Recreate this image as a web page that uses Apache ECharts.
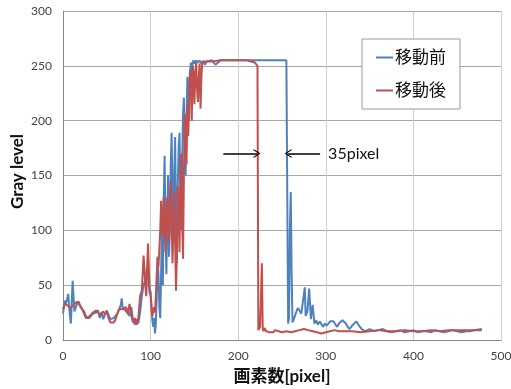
<!DOCTYPE html>
<html>
<head>
<meta charset="utf-8">
<script src="https://cdn.jsdelivr.net/npm/echarts@6/dist/echarts.min.js"></script>
<style>
  html, body { margin: 0; padding: 0; background: #fff; }
  #chart { width: 511px; height: 389px; }
</style>
</head>
<body>
<div id="chart"></div>
<script>
// 移動前 (blue)
const beforeX = [
  0, 1, 2, 3, 4, 5, 6, 7, 8, 9, 10, 11, 12, 13, 14, 16, 18, 20, 22, 24, 26, 28, 30, 32, 34, 36, 38, 40,
  42, 44, 46, 48, 50, 52, 54, 56, 58, 60, 62, 64, 66, 67, 68, 70, 72, 74, 76, 78, 80, 82, 84, 86, 88,
  90, 92, 94, 96, 98, 99,
  100, 101, 102, 103, 104, 105, 106, 107, 108, 109, 110, 111, 112, 113, 114, 115, 116, 117, 118, 119,
  120, 121, 122, 123, 124, 125, 126, 127, 128, 129, 130, 131, 132, 133, 134, 135, 136, 137, 138, 139,
  140, 141, 142, 143, 144, 145, 146, 147, 148, 149, 150, 152, 154, 156, 158, 160, 162, 164, 166, 170,
  174, 176, 180, 190, 200, 210, 220, 230, 240, 250, 255, 256,
  257, 258, 259, 260, 261, 262, 263, 264, 266, 268, 270, 272, 274, 276, 277, 279, 281, 283, 285, 287,
  289, 291, 293, 295, 297, 299, 301, 303, 305, 307, 309, 311, 313, 315, 317, 319, 321, 323, 325, 327,
  329, 331, 333, 335, 337, 339, 341, 343, 345, 347, 350, 355, 360, 365, 370, 375, 380, 385, 390, 395,
  400, 405, 410, 415, 420, 425, 430, 435, 440, 445, 450, 455, 460, 465, 470, 475, 478
]
const beforeY = [
  24, 30, 36, 33, 35, 38, 42, 30, 22, 15, 35, 54, 40, 26, 28, 33, 35, 30, 28, 24, 20, 19, 20, 22, 24, 25, 25, 27,
  20, 25, 19, 24, 27, 23, 19, 18, 20, 21, 24, 28, 32, 38, 30, 28, 26, 24, 22, 30, 18, 14, 19, 15, 25,
  40, 50, 55, 67, 50, 42,
  45, 30, 18, 12, 20, 6, 15, 40, 76, 60, 30, 20, 60, 110, 50, 130, 168, 100, 60, 110,
  150, 76, 100, 160, 189, 130, 90, 150, 185, 110, 70, 140, 175, 189, 130, 100, 160, 205, 221, 180,
  150, 200, 240, 233, 200, 245, 253, 240, 253, 255, 252, 255, 253, 255, 252, 254, 251, 254, 255, 255,
  251, 252, 255, 255, 255, 255, 255, 255, 255, 255, 255, 254,
  15, 20, 100, 135, 60, 16, 16, 20, 25, 29, 27, 24, 25, 48, 22, 26, 47, 19, 32, 15,
  18, 14, 17, 18, 12, 15, 13, 14, 17, 16, 17, 14, 12, 15, 16, 18, 17, 15, 12, 10,
  12, 14, 15, 17, 14, 12, 10, 9, 8, 9, 10, 8, 9, 10, 8, 7, 8, 9, 7, 8,
  9, 7, 8, 8, 7, 9, 8, 7, 8, 9, 8, 7, 8, 8, 9, 9, 9
]
// 移動後 (red)
const afterX = [
  0, 2, 4, 6, 8, 10, 12, 14, 16, 18, 20, 22, 24, 26, 28, 30, 32, 34, 36, 38, 40, 42, 44, 46, 48, 50,
  52, 54, 56, 58, 60, 62, 64, 66, 68, 70, 72, 74, 76, 78, 80, 82, 84, 86, 88, 90, 92, 94, 95, 97, 98, 99,
  100, 101, 102, 103, 104, 105, 106, 107, 108, 109, 110, 111, 112, 113, 114, 115, 116, 117, 118, 119,
  120, 121, 122, 123, 124, 125, 126, 127, 128, 129, 130, 131, 132, 133, 134, 135, 136, 137, 138, 139,
  140, 141, 142, 143, 144, 145, 146, 147, 148, 149, 150, 151, 152, 153, 154, 155, 156, 157, 158, 159,
  160, 170, 180, 190, 200, 210, 215, 219, 221, 222,
  223, 224, 225, 226, 227, 228, 229, 230, 232, 234, 236, 238, 240, 242, 244, 246, 248, 250, 255, 260,
  265, 270, 275, 280, 285, 290, 295, 300, 305, 310, 315, 320, 330, 340, 350, 360, 370, 380, 390, 400,
  410, 420, 430, 440, 450, 460, 470, 478
]
const afterY = [
  28, 33, 34, 31, 29, 30, 32, 31, 35, 36, 31, 28, 26, 22, 20, 21, 23, 25, 26, 27, 25, 23, 22, 26, 23, 26,
  20, 16, 15, 16, 19, 24, 28, 29, 28, 27, 30, 24, 33, 22, 16, 20, 14, 20, 40, 45, 77, 50, 40, 88, 65, 45,
  40, 30, 22, 21, 30, 25, 40, 60, 75, 67, 67, 100, 127, 110, 95, 130, 105, 80, 115, 130,
  100, 90, 125, 145, 110, 70, 100, 135, 90, 45, 80, 140, 120, 80, 150, 170, 110, 74, 150, 206,
  190, 160, 215, 186, 220, 246, 230, 200, 250, 245, 215, 240, 253, 230, 217, 240, 252, 211, 240, 254,
  255, 254, 255, 255, 255, 255, 254, 253, 252, 250,
  9, 9, 12, 40, 70, 10, 8, 11, 8, 9, 7, 8, 7, 9, 10, 8, 7, 7, 8, 7,
  8, 9, 10, 9, 8, 7, 6, 7, 8, 9, 8, 8, 8, 7, 8, 9, 8, 8, 9, 8,
  8, 9, 8, 9, 9, 9, 9, 10
]
const seriesNames = ['移動前', '移動後']
const xTicks = { min: 0, max: 500, interval: 100 }
const yTicks = { min: 0, max: 300, interval: 50 }
// annotation arrows [fromX, toX, y]
const arrows = [[183, 221.5, 170], [293.5, 257, 170]]
const arrowText = '35pixel'

const font = 'Lato, "Noto Sans CJK JP", sans-serif'
const chevron = 'path://M0,10 L5,0 L10,10 L8.6,10 L5,2.8 L1.4,10 Z'

const chart = echarts.init(document.getElementById('chart'), null, { renderer: 'canvas' })
chart.setOption({
  animation: false,
  backgroundColor: '#fff',
  textStyle: { fontFamily: font },
  grid: { left: 63, right: 10, top: 11, bottom: 49, containLabel: false, outerBoundsMode: 'none' },
  legend: {
    data: seriesNames,
    orient: 'vertical',
    left: 362, top: 39,
    padding: [9, 14, 9, 14],
    icon: 'rect',
    itemWidth: 17, itemHeight: 2, itemGap: 14,
    borderColor: '#9a9a9a', borderWidth: 1,
    backgroundColor: '#fff',
    textStyle: { fontSize: 17, lineHeight: 19, color: '#111', fontFamily: font, padding: [0, 0, 0, -3] }
  },
  xAxis: {
    type: 'value',
    min: xTicks.min, max: xTicks.max, interval: xTicks.interval,
    name: '画素数[pixel]', nameLocation: 'middle', nameGap: 28,
    nameTextStyle: { fontSize: 17, fontWeight: 'bold', color: '#111', fontFamily: font },
    axisLine: { lineStyle: { color: '#888' } },
    axisTick: { show: false },
    axisLabel: { margin: 10, fontSize: 12, color: '#444' },
    splitLine: { lineStyle: { color: '#cfcfcf', width: 1 } }
  },
  yAxis: {
    type: 'value',
    min: yTicks.min, max: yTicks.max, interval: yTicks.interval,
    name: 'Gray level', nameLocation: 'middle', nameGap: 37, nameMoveOverlap: false,
    nameTextStyle: { fontSize: 17, fontWeight: 'bold', color: '#111', fontFamily: font, padding: [0, 0, 0, 8] },
    axisLine: { show: true, lineStyle: { color: '#888' } },
    axisTick: { show: false },
    axisLabel: { margin: 11, fontSize: 12, color: '#444' },
    splitLine: { lineStyle: { color: '#a6a6a6', width: 1 } }
  },
  series: [
    {
      name: seriesNames[0], type: 'line', symbol: 'none',
      lineStyle: { color: '#4F81BD', width: 2 }, itemStyle: { color: '#4F81BD' },
      data: beforeX.map((x, i) => [x, beforeY[i]])
    },
    {
      name: seriesNames[1], type: 'line', symbol: 'none',
      lineStyle: { color: '#C0504D', width: 2 }, itemStyle: { color: '#C0504D' },
      data: afterX.map((x, i) => [x, afterY[i]]),
      markLine: {
        silent: true, animation: false,
        symbol: ['none', chevron], symbolSize: [9, 7],
        lineStyle: { color: '#000', width: 1.5, type: 'solid' },
        label: { show: false },
        data: arrows.map((a, i) => [
          { coord: [a[0], a[2]] },
          {
            coord: [a[1], a[2]],
            label: i === 1
              ? { show: true, position: 'start', distance: 8, formatter: arrowText, fontSize: 16, color: '#111', fontFamily: font }
              : { show: false }
          }
        ])
      }
    }
  ]
})
</script>
</body>
</html>
